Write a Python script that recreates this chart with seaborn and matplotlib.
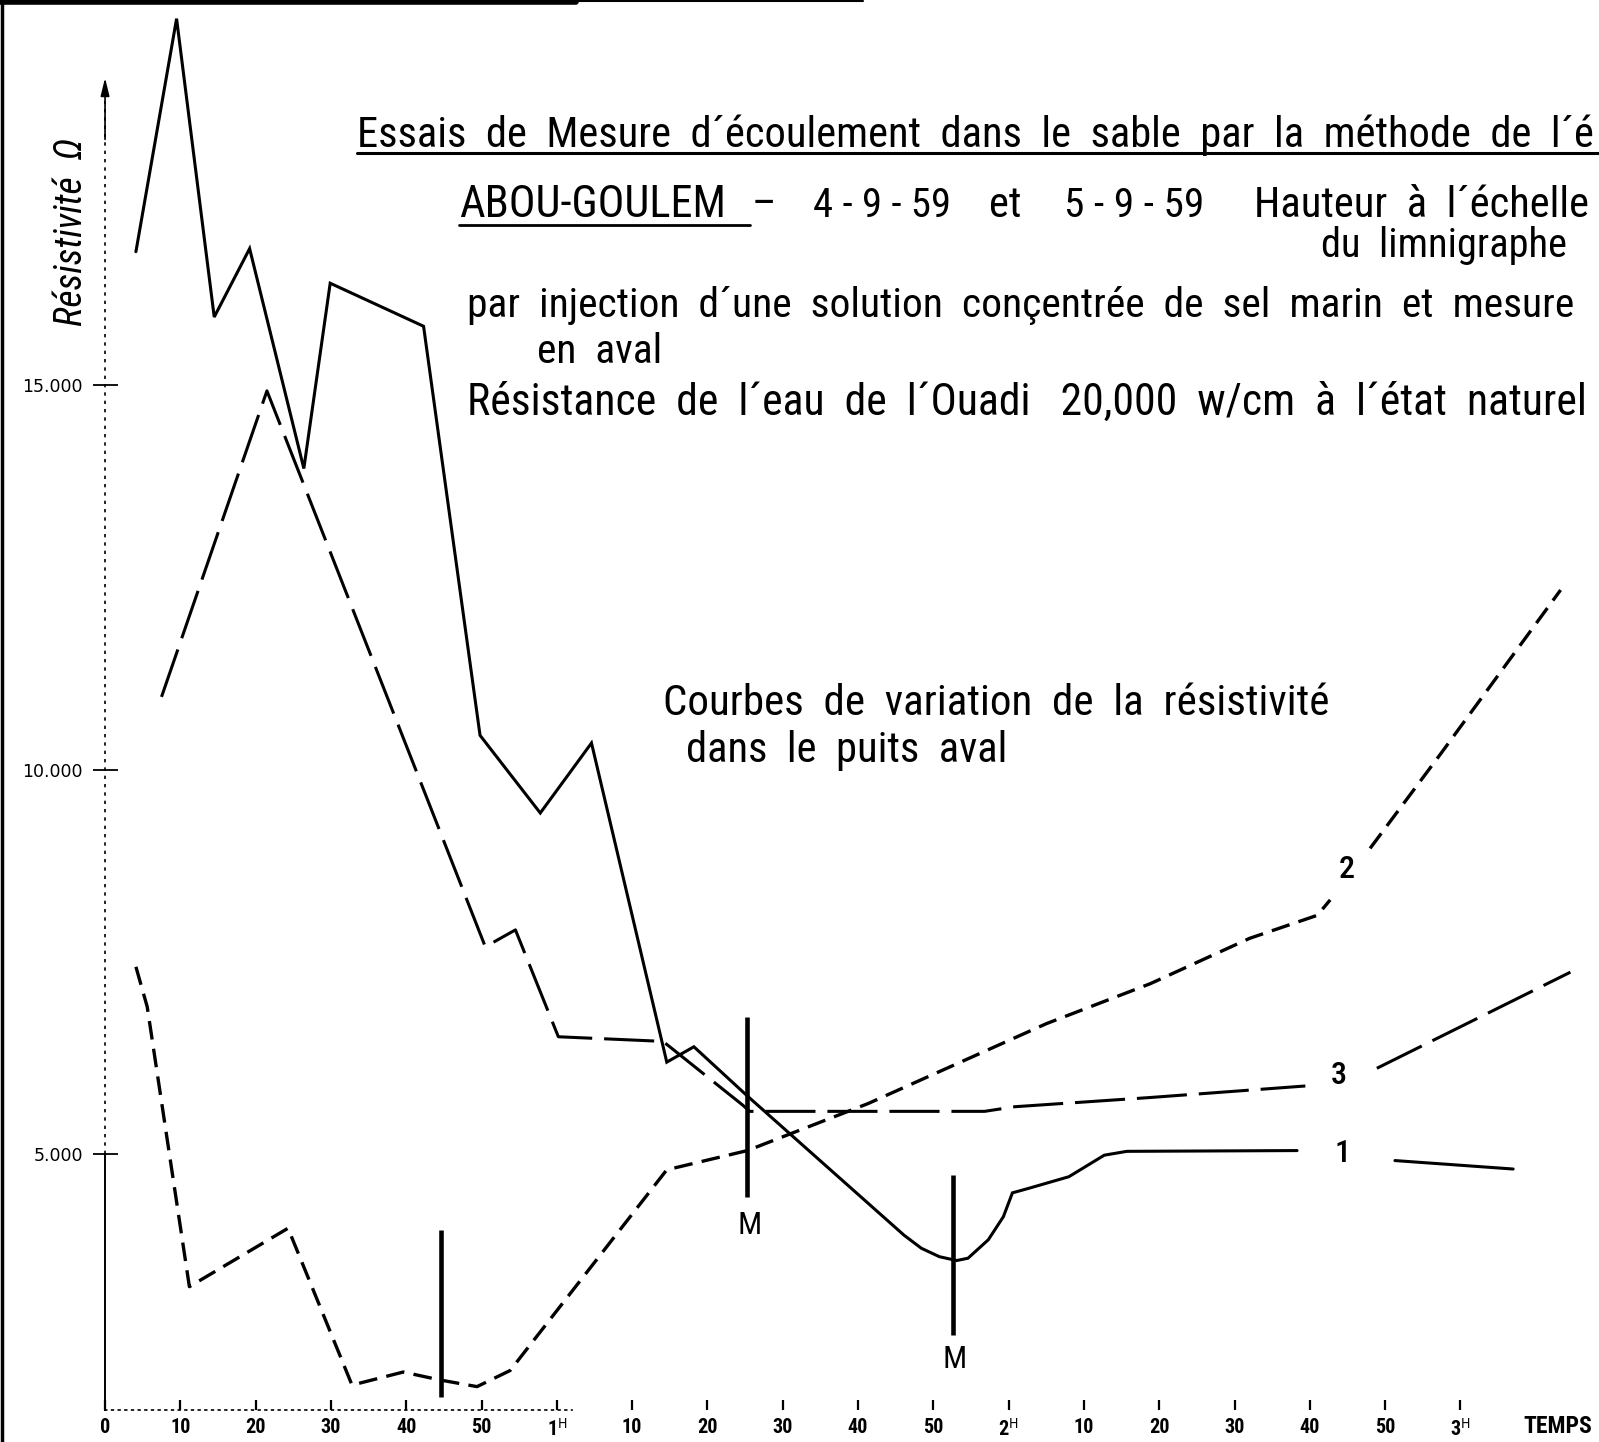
import matplotlib
matplotlib.use("Agg")
import matplotlib.pyplot as plt
from matplotlib.lines import Line2D
import seaborn as sns

# Resistivity (ohm) in the downstream well against time after injection (minutes)
# Curve 1 (solid)
t_curve1 = [4.1, 9.5, 14.5, 19.2, 26.4, 29.9, 42.3, 49.8, 57.8, 64.6, 74.6, 78.2,
            85.3, 106.1, 108.4, 110.8, 113.1, 114.6, 117.3, 119.3, 120.5, 122.7,
            128.0, 132.7, 135.7, 158.3]
r_curve1 = [16740, 19770, 15890, 16780, 13920, 16330, 15770, 10450, 9440, 10350, 6200, 6400,
            5760, 3950, 3780, 3670, 3620, 3650, 3890, 4190, 4500, 4560,
            4710, 4990, 5040, 5050]
t_curve1_end = [171.3, 187.0]
r_curve1_end = [4920, 4810]

# Curve 2 (short dashes)
t_curve2 = [4.1, 5.6, 11.2, 24.3, 32.8, 39.6, 44.3, 49.4, 53.8, 74.6, 85.3, 101.3,
            125.0, 138.8, 152.0, 161.0, 162.7]
r_curve2 = [7440, 6920, 3280, 4040, 2000, 2170, 2070, 1980, 2190, 4800, 5050, 5660,
            6700, 7220, 7810, 8110, 8310]
t_curve2_end = [168.0, 177.3, 193.3]
r_curve2_end = [8980, 10200, 12340]

# Curve 3 (long dashes)
t_curve3 = [7.5, 21.5, 50.5, 54.5, 60.2, 74.1, 84.7, 85.6, 116.8, 120.8, 138.8, 159.4]
r_curve3 = [10950, 14930, 7700, 7920, 6530, 6470, 5640, 5560, 5560, 5620, 5740, 5890]
t_curve3_end = [168.9, 194.6]
r_curve3_end = [6120, 7370]

# Vertical time markers (M = passage of the salt cloud)
marker_t = [44.6, 85.3, 112.6]
marker_low = [1840, 4440, 2650]
marker_high = [4020, 6790, 4730]
marker_names = ["", "M", "M"]

curve_names = ["1", "2", "3"]

x_ticks = list(range(0, 181, 10))
x_ticklabels = ["0", "10", "20", "30", "40", "50", r"1$^{\rm H}$",
                "10", "20", "30", "40", "50", r"2$^{\rm H}$",
                "10", "20", "30", "40", "50", r"3$^{\rm H}$"]
y_ticks = [5000, 10000, 15000]
y_ticklabels = ["5.000", "10.000", "15.000"]

sns.set_theme(style="white")
plt.rcParams["font.family"] = ["Roboto Condensed", "DejaVu Sans"]
plt.rcParams["font.stretch"] = "condensed"
plt.rcParams["mathtext.fontset"] = "dejavusans"

fig = plt.figure(figsize=(15.99, 14.42), dpi=100)
fig.patch.set_facecolor("white")
ax = fig.add_axes([0, 0, 1, 1])
ax.set_facecolor("white")
ax.set_xlim(-13.95, 198.4)
ax.set_ylim(1260, 20013)

for side in ("top", "right"):
    ax.spines[side].set_visible(False)
ax.spines["left"].set_position(("data", 0))
ax.spines["left"].set_bounds(1680, 5000)
ax.spines["left"].set_linewidth(1.4)
ax.spines["left"].set_color("black")
ax.spines["bottom"].set_position(("data", 1680))
ax.spines["bottom"].set_bounds(0, 62)
ax.spines["bottom"].set_linestyle((0, (1, 3)))
ax.spines["bottom"].set_linewidth(1.2)
ax.spines["bottom"].set_color("black")

ax.set_xticks(x_ticks, x_ticklabels)
ax.set_yticks(y_ticks, y_ticklabels)
ax.tick_params(axis="x", bottom=True, direction="in", length=7, width=1.6,
               color="black", pad=6, labelsize=14.5, labelcolor="black")
for lab in ax.get_xticklabels():
    lab.set_fontweight("bold")
ax.tick_params(axis="y", left=True, direction="inout", length=18, width=1.3,
               color="black", pad=7, labelsize=12.5, labelcolor="black")
for lab in ax.get_yticklabels():
    lab.set_family("DejaVu Sans")
    lab.set_fontstretch("normal")
ax.set_xlabel("")
ax.set_ylabel("")

# dotted upper part of the ordinate with its arrow
ax.vlines(0, 5000, 18700, colors="black", linewidth=1.2, linestyles=(0, (2, 3)))
ax.annotate("", xy=(0, 19000), xytext=(0, 18200),
            arrowprops=dict(arrowstyle="-|>,head_length=0.9,head_width=0.22",
                            color="black", lw=1.2, shrinkA=0, shrinkB=0))


def trace(t, r, lw, dash=None):
    sns.lineplot(x=t, y=r, ax=ax, color="black", linewidth=lw,
                 estimator=None, sort=False, legend=False)
    line = ax.lines[-1]
    if dash is not None:
        line.set_dashes(dash)
        line.set_dash_capstyle("butt")
    line.set_solid_joinstyle("miter")


trace(t_curve1, r_curve1, 2.2)
trace(t_curve1_end, r_curve1_end, 2.2)
trace(t_curve2, r_curve2, 2.4, (5.6, 2.8))
trace(t_curve2_end, r_curve2_end, 2.4, (5.6, 2.8))
trace(t_curve3, r_curve3, 2.2, (16.4, 3.9))
trace(t_curve3_end, r_curve3_end, 2.2, (16.4, 3.9))

ax.vlines(marker_t, marker_low, marker_high, colors="black", linewidth=3.3)
marker_label_pos = [None, (85.6, 4080), (112.8, 2330)]
for name, pos in zip(marker_names, marker_label_pos):
    if name and pos is not None:
        ax.text(pos[0], pos[1], name, ha="center", va="center", fontsize=23,
                color="black")

curve_label_pos = [(164.3, 5010), (164.9, 8700), (163.8, 6030)]
for name, pos in zip(curve_names, curve_label_pos):
    ax.text(pos[0], pos[1], name, ha="center", va="center", fontsize=23,
            fontweight="medium", color="black")

renderer = fig.canvas.get_renderer()


def fitted(x0, x1, y, s, size=None, **kw):
    txt = fig.text(x0, y, s, ha="left", va="baseline", fontsize=24, color="black", **kw)
    if size is None:
        w = txt.get_window_extent(renderer).width
        txt.set_fontsize(24 * (x1 - x0) * fig.bbox.width / w)
    else:
        txt.set_fontsize(size)
    return txt


title = fitted(0.2232, 0.999, 0.8982,
               "Essais  de  Mesure  d\u00b4\u00e9coulement  dans  le  sable  par  la  m\u00e9thode  de  l\u00b4\u00e9")
base = title.get_fontsize()
fig.add_artist(Line2D([0.2232, 1.0], [0.8936, 0.8936], transform=fig.transFigure,
                      color="black", lw=2.2))

fitted(0.2870, 0.4541, 0.8495, "ABOU-GOULEM")
fig.add_artist(Line2D([0.2870, 0.4688], [0.8440, 0.8440], transform=fig.transFigure,
                      color="black", lw=2.0))
fitted(0.4700, 0.4815, 0.8495, "\u2013", size=base)
fitted(0.5083, 0.5944, 0.8495, "4 - 9 - 59")
fitted(0.6186, 0.6352, 0.8495, "et", size=base)
fitted(0.6652, 0.7526, 0.8495, "5 - 9 - 59")
fitted(0.7844, 0.999, 0.8495, "Hauteur  \u00e0  l\u00b4\u00e9chelle", size=base)
fitted(0.8259, 0.9853, 0.8215, "du  limnigraphe", size=base * 0.95)
fitted(0.2921, 0.9853, 0.7804,
       "par  injection  d\u00b4une  solution  con\u00e7entr\u00e9e  de  sel  marin  et  mesure")
fitted(0.3361, 0.4145, 0.7482, "en  aval")
fitted(0.2921, 0.9949, 0.7122,
       "R\u00e9sistance  de  l\u00b4eau  de  l\u00b4Ouadi   20,000  w/cm  \u00e0  l\u00b4\u00e9tat  naturel")
fitted(0.4145, 0.8323, 0.5042, "Courbes  de  variation  de  la  r\u00e9sistivit\u00e9")
fitted(0.4292, 0.6301, 0.4717, "dans  le  puits  aval")

ylab = fig.text(0.0446, 0.839, "R\u00e9sistivit\u00e9  \u03a9", rotation=90, ha="center",
                va="center", fontsize=18, style="italic", color="black")
h = ylab.get_window_extent(renderer).height
ylab.set_fontsize(18 * 0.1308 * fig.bbox.height / h)

fig.text(0.9739, 0.0105, "TEMPS", ha="center", va="center", fontsize=17,
         fontweight="bold", color="black")

# edges of the sheet
fig.add_artist(Line2D([0.0012, 0.0012], [0, 1], transform=fig.transFigure, color="black", lw=2.5))
fig.add_artist(Line2D([0.0, 0.36], [0.9985, 0.9985], transform=fig.transFigure, color="black", lw=4))
fig.add_artist(Line2D([0.36, 0.54], [0.999, 0.999], transform=fig.transFigure, color="black", lw=1.5))

fig.savefig("out.png", dpi=100, facecolor="white")
